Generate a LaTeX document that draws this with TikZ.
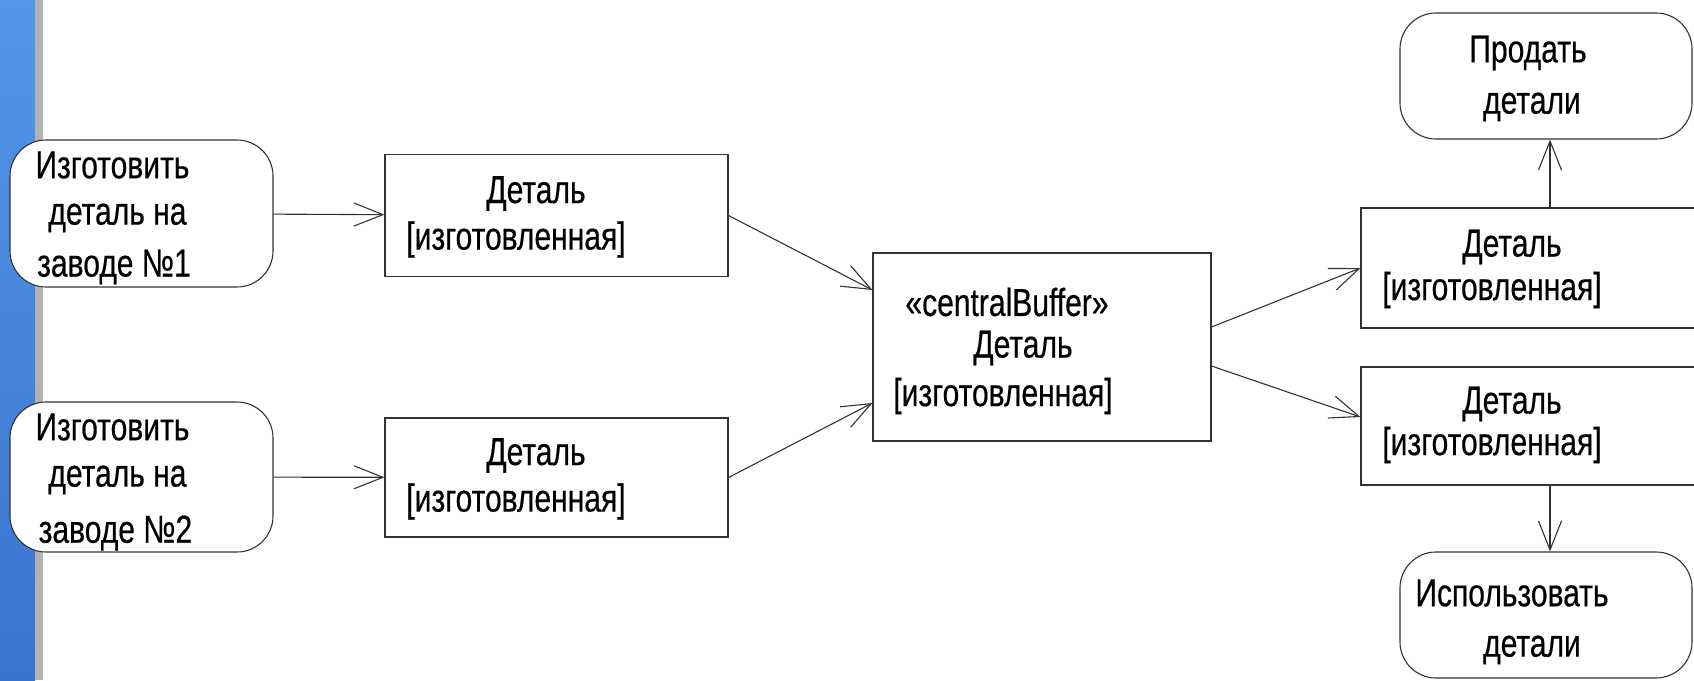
\documentclass[tikz,border=0pt]{standalone}
\usepackage{fontspec}
\setmainfont{Liberation Sans}[FakeStretch=0.77,FakeBold=0.4]
\usetikzlibrary{arrows.meta,calc}
\definecolor{stripTop}{HTML}{5296E8}
\definecolor{stripBot}{HTML}{3A74CF}
\definecolor{stripGray}{HTML}{B2B2B2}
\begin{document}
\begin{tikzpicture}[x=1pt,y=-1pt,
  line/.style={draw=black!80, line width=1.1pt},
  actbox/.style={line, rounded corners=36pt, fill=white, inner sep=0pt},
  objbox/.style={line, fill=white, inner sep=0pt},
  ln/.style={font=\fontsize{39pt}{44pt}\selectfont, inner sep=0pt, text=black},
  flow/.style={line, -{Straight Barb[length=29pt,width=23pt]}},
]
\useasboundingbox (0,0) rectangle (1694,680);
\clip (0,0) rectangle (1694,680);
\fill[white] (0,0) rectangle (1694,680);
\shade[top color=stripTop, bottom color=stripBot] (0,0) rectangle (35,680);
\fill[stripGray] (35,0) rectangle (43,680);

% actions on the left
\node[actbox, minimum width=263pt, minimum height=147pt,
  label={[ln,xshift=-29pt,yshift=48.5pt]center:Изготовить},
  label={[ln,xshift=-24pt,yshift=-4.5pt]center:деталь на},
  label={[ln,xshift=-27.5pt,yshift=-53.5pt]center:заводе №1}] (a1) at (141.5,213.5) {};
\node[actbox, minimum width=263pt, minimum height=150pt,
  label={[ln,xshift=-29pt,yshift=50pt]center:Изготовить},
  label={[ln,xshift=-24pt,yshift=-3pt]center:деталь на},
  label={[ln,xshift=-26pt,yshift=-56pt]center:заводе №2}] (a2) at (141.5,477) {};

% object nodes
\node[objbox, minimum width=343pt, minimum height=122pt,
  label={[ln,xshift=-20.5pt,yshift=22pt]center:Деталь},
  label={[ln,xshift=-40.5pt,yshift=-24pt]center:[изготовленная]}] (o1) at (556.5,215.5) {};
\node[objbox, minimum width=343pt, minimum height=119pt,
  label={[ln,xshift=-20.5pt,yshift=22pt]center:Деталь},
  label={[ln,xshift=-40.5pt,yshift=-24pt]center:[изготовленная]}] (o2) at (556.5,477.5) {};

% central buffer
\node[objbox, minimum width=338pt, minimum height=188pt,
  label={[ln,xshift=-35pt,yshift=45pt]center:«centralBuffer»},
  label={[ln,xshift=-19pt,yshift=-1pt]center:Деталь},
  label={[ln,xshift=-39pt,yshift=-49pt]center:[изготовленная]}] (c) at (1042,347) {};

% right object nodes (cut by the page edge)
\node[objbox, minimum width=378pt, minimum height=120pt,
  label={[ln,xshift=-38pt,yshift=21pt]center:Деталь},
  label={[ln,xshift=-58pt,yshift=-22pt]center:[изготовленная]}] (r1) at (1550,268) {};
\node[objbox, minimum width=378pt, minimum height=118pt,
  label={[ln,xshift=-38pt,yshift=22pt]center:Деталь},
  label={[ln,xshift=-58pt,yshift=-19pt]center:[изготовленная]}] (r2) at (1550,426) {};

% actions on the right
\node[actbox, minimum width=292pt, minimum height=126pt,
  label={[ln,xshift=-18pt,yshift=23pt]center:Продать},
  label={[ln,xshift=-14pt,yshift=-31pt]center:детали}] (sell) at (1546,76) {};
\node[actbox, minimum width=292pt, minimum height=126pt,
  label={[ln,xshift=-34pt,yshift=22pt]center:Использовать},
  label={[ln,xshift=-14pt,yshift=-35pt]center:детали}] (use) at (1546,615) {};

% flows
\draw[flow] (a1) -- (o1);
\draw[flow] (a2) -- (o2);
\draw[flow] (o1.east) -- ($(c.west)+(0,-57)$);
\draw[flow] (o2.east) -- ($(c.west)+(0,56)$);
\draw[flow] ($(c.east)+(0,-20)$) -- (r1.west);
\draw[flow] ($(c.east)+(0,19)$) -- ($(r2.west)+(0,-9)$);
\draw[flow] (r1.north) -- (r1.north |- sell.south);
\draw[flow] (r2.south) -- (r2.south |- use.north);
\end{tikzpicture}
\end{document}
